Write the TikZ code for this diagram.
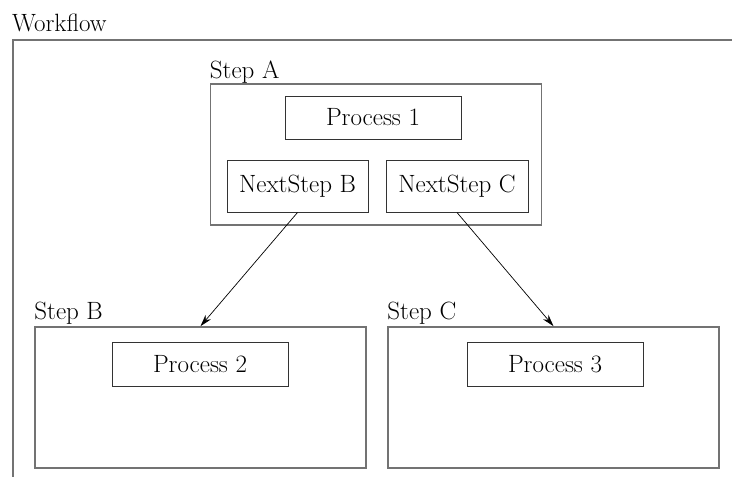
\documentclass[tikz,border=0pt]{standalone}
\usetikzlibrary{arrows.meta,shapes}
\tikzstyle{frame}=[rectangle,draw=black!55,line width=1.6pt,inner sep=0pt]
\tikzstyle{stepbox}=[frame,minimum width=331pt,minimum height=141pt]
\tikzstyle{process box}=[rectangle,draw=black!80,line width=1pt,inner sep=0pt,text=black,font=\rmfamily\fontsize{25}{30}\selectfont]
\tikzstyle{title}=[anchor=base west,inner sep=0pt,text=black,font=\rmfamily\fontsize{25}{30}\selectfont]
\tikzstyle{flow}=[draw,line width=0.7pt,-{Stealth[length=12pt,width=7pt]}]

\begin{document}
\begin{tikzpicture}[x=1pt,y=-1pt]
    \useasboundingbox (0,0) rectangle (732,477);
    % The workflow frame runs off the page at the right and the bottom
    \node[frame,anchor=north west,minimum width=740pt,minimum height=460pt] (workflow) at (12,39) {};

    % First we draw the steps
    \foreach \pos/\name in {{(376,154.5)/stepA},{(200.5,397.5)/stepB},{(553.5,397.5)/stepC}}
        \node[stepbox] (\name) at \pos {};

    % Then the boxes inside them
    \foreach \pos/\name/\text/\boxw/\boxh in {{(373,117.5)/proc1/Process 1/176/43},
        {(297.5,186)/nextB/NextStep B/141/52}, {(457,186)/nextC/NextStep C/142/52},
        {(200,364)/proc2/Process 2/176/44}, {(555,364)/proc3/Process 3/176/44}}
        \node[process box,minimum width=\boxw pt,minimum height=\boxh pt] (\name) at \pos {\text};

    % Titles sit on the top left corners
    \foreach \name/\text/\gap in {workflow/Workflow/8, stepA/Step A/5, stepB/Step B/7, stepC/Step C/7}
        \node[title] (\name-title) at ([yshift=\gap pt]\name.north west) {\text};

    % Connect next steps with their steps
    \foreach \source/\dest in {nextB/stepB, nextC/stepC}
        \path[flow] (\source.south) -- (\dest.north);
\end{tikzpicture}
\end{document}
